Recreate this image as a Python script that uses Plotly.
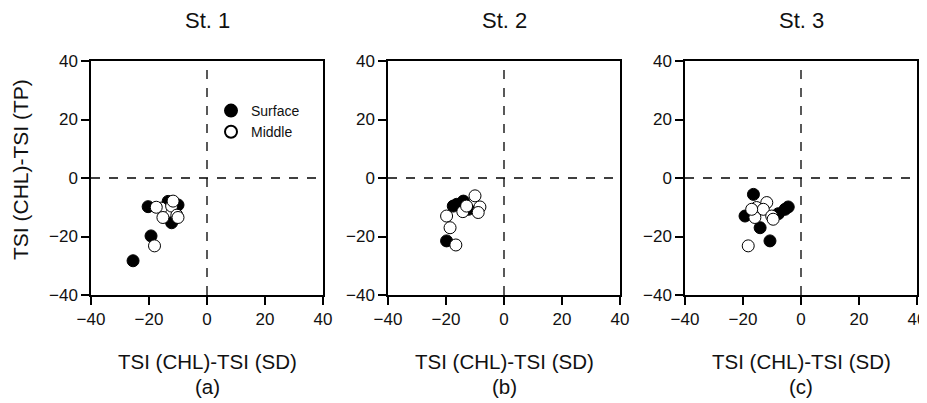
import plotly.graph_objects as go

# Panel data (x = TSI(CHL)-TSI(SD), y = TSI(CHL)-TSI(TP))
st1_surface_x = [-25.5, -19.3, -20.3, -13.4, -10.0, -12.2]
st1_surface_y = [-28.3, -19.8, -9.8, -8.0, -9.2, -15.3]
st1_middle_x = [-18.1, -15.8, -17.5, -12.2, -10.4, -10.0, -15.2, -11.7]
st1_middle_y = [-23.2, -10.3, -10.0, -9.6, -12.7, -13.5, -13.5, -7.9]

st2_surface_x = [-19.8, -17.5, -14.0, -12.3, -16.3]
st2_surface_y = [-21.5, -9.6, -7.9, -10.7, -9.0]
st2_middle_x = [-16.6, -19.8, -18.6, -14.2, -10.0, -8.3, -8.9, -12.9]
st2_middle_y = [-22.9, -13.0, -17.0, -11.5, -6.1, -9.9, -11.8, -9.6]

st3_surface_x = [-16.4, -19.3, -14.1, -10.7, -5.5, -4.4, -7.8]
st3_surface_y = [-5.6, -13.0, -17.0, -21.5, -10.7, -9.9, -12.2]
st3_middle_x = [-18.2, -15.3, -11.8, -13.0, -10.1, -15.9, -17.0, -9.6]
st3_middle_y = [-23.2, -10.1, -8.4, -10.7, -13.0, -13.5, -10.7, -14.1]

titles = ["St. 1", "St. 2", "St. 3"]
labels = ["(a)", "(b)", "(c)"]
tick_vals = [-40, -20, 0, 20, 40]

panels = [
    (st1_surface_x, st1_surface_y, st1_middle_x, st1_middle_y),
    (st2_surface_x, st2_surface_y, st2_middle_x, st2_middle_y),
    (st3_surface_x, st3_surface_y, st3_middle_x, st3_middle_y),
]

W, H = 927, 403
OFF = 8  # page body margin offset


def px(v):
    return (v - OFF) / W


def py(v):
    return 1 - (v - OFF) / H


x_domains = [(px(91), px(323)), (px(388), px(620)), (px(685), px(917))]
y_domain = (py(295), py(61))

fig = go.Figure()
font = "Liberation Sans, Arial, sans-serif"
tcol = "#111111"

for i, (sx, sy, mx, my) in enumerate(panels):
    xa = "x" if i == 0 else f"x{i+1}"
    ya = "y" if i == 0 else f"y{i+1}"
    fig.add_trace(go.Scatter(
        x=sx, y=sy, mode="markers", name="Surface", xaxis=xa, yaxis=ya,
        marker=dict(size=12, color="black", line=dict(color="black", width=1)),
        showlegend=(i == 0)))
    fig.add_trace(go.Scatter(
        x=mx, y=my, mode="markers", name="Middle", xaxis=xa, yaxis=ya,
        marker=dict(size=12, color="white", line=dict(color="black", width=1)),
        showlegend=(i == 0)))

    axis_common = dict(
        range=[-40, 40], tickvals=tick_vals, showgrid=False, zeroline=False,
        showline=True, linecolor="black", linewidth=1.5, mirror=True,
        ticks="outside", ticklen=8, tickwidth=1.5, tickcolor="black",
        automargin=False,
        tickfont=dict(size=17, color=tcol, family=font))
    suffix = "" if i == 0 else str(i + 1)
    fig.layout["xaxis" + suffix] = dict(axis_common, domain=x_domains[i],
                                        anchor=ya)
    fig.layout["yaxis" + suffix] = dict(axis_common, domain=y_domain,
                                        anchor=xa)
    # dashed reference lines
    fig.add_shape(type="line", xref=xa, yref=ya, x0=0, x1=0, y0=-40, y1=40,
                  line=dict(color="black", width=1.3, dash="dash"))
    fig.add_shape(type="line", xref=xa, yref=ya, x0=-40, x1=40, y0=0, y1=0,
                  line=dict(color="black", width=1.3, dash="dash"))

    xc = (x_domains[i][0] + x_domains[i][1]) / 2
    fig.add_annotation(text=titles[i], x=xc, y=py(21), xref="paper",
                       yref="paper", showarrow=False, xanchor="center",
                       yanchor="middle",
                       font=dict(size=22, color=tcol, family=font))
    fig.add_annotation(text="TSI (CHL)-TSI (SD)", x=xc, y=py(361),
                       xref="paper", yref="paper", showarrow=False,
                       xanchor="center", yanchor="middle",
                       font=dict(size=20.5, color=tcol, family=font))
    fig.add_annotation(text=labels[i], x=xc, y=py(386), xref="paper",
                       yref="paper", showarrow=False, xanchor="center",
                       yanchor="middle",
                       font=dict(size=20.5, color=tcol, family=font))

fig.add_annotation(text="TSI (CHL)-TSI (TP)", x=px(20), y=py(170),
                   xref="paper", yref="paper", showarrow=False, textangle=-90,
                   xanchor="center", yanchor="middle",
                   font=dict(size=21, color=tcol, family=font))

fig.update_layout(
    width=W, height=H,
    margin=dict(l=0, r=0, t=0, b=0, pad=0, autoexpand=False),
    paper_bgcolor="white", plot_bgcolor="white",
    legend=dict(x=px(211), y=py(95), xanchor="left", yanchor="top",
                bgcolor="rgba(0,0,0,0)", font=dict(size=14, color=tcol,
                                                   family=font),
                itemsizing="constant", tracegroupgap=0),
)

fig.write_html("out.html")
